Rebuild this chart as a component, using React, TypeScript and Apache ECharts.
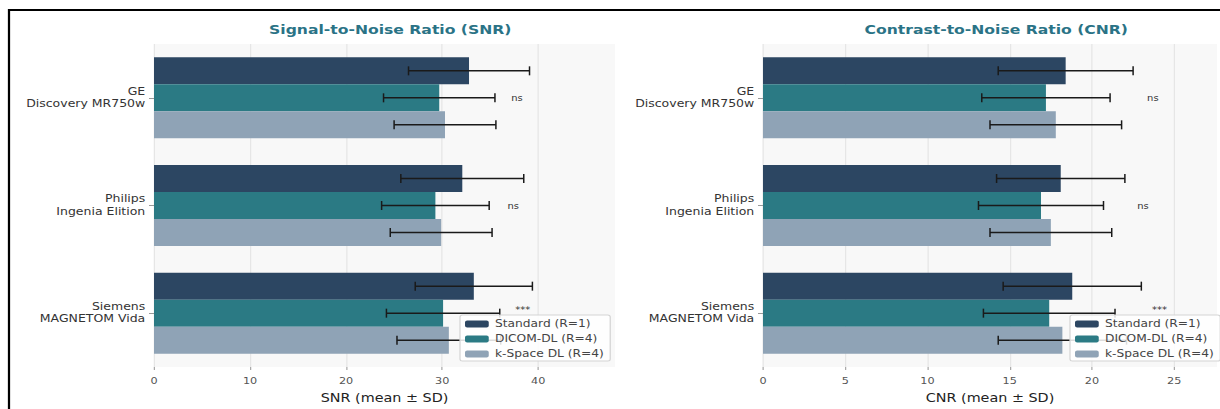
import React, { useEffect, useRef } from "react";
import * as echarts from "echarts";

const categories = ["GE\nDiscovery MR750w", "Philips\nIngenia Elition", "Siemens\nMAGNETOM Vida"];
const seriesNames = ["Standard (R=1)", "DICOM-DL (R=4)", "k-Space DL (R=4)"];
const seriesColors = ["#2c4662", "#2b7a84", "#8fa3b6"];

const snrStandardMean = [32.8, 32.1, 33.3];
const snrStandardSD = [6.3, 6.4, 6.1];
const snrDicomMean = [29.7, 29.3, 30.1];
const snrDicomSD = [5.8, 5.6, 5.9];
const snrKspaceMean = [30.3, 29.9, 30.7];
const snrKspaceSD = [5.3, 5.3, 5.4];

const cnrStandardMean = [18.4, 18.1, 18.8];
const cnrStandardSD = [4.1, 3.9, 4.2];
const cnrDicomMean = [17.2, 16.9, 17.4];
const cnrDicomSD = [3.9, 3.8, 4.0];
const cnrKspaceMean = [17.8, 17.5, 18.2];
const cnrKspaceSD = [4.0, 3.7, 3.9];

const snrSigLabels = ["ns", "ns", "***"];
const snrSigX = [37.8, 37.4, 38.4];
const cnrSigLabels = ["ns", "ns", "***"];
const cnrSigX = [23.7, 23.1, 24.1];

const snrTicks = [0, 10, 20, 30, 40];
const cnrTicks = [0, 5, 10, 15, 20, 25];

const FONT = "DejaVu Sans";
const BAR_W = 27;
// The reference figure is stretched horizontally; draw at a narrower width and stretch.
const STRETCH = 1.25;
const W = 1220 / STRETCH;
const H = 409;
const sx = (x: number) => x / STRETCH;

export default function App() {
  const ref = useRef<HTMLDivElement>(null);
  useEffect(() => {
    if (!ref.current) return;
    const chart = echarts.init(ref.current, undefined, { renderer: "svg" });

    const panels = [
      { means: [snrStandardMean, snrDicomMean, snrKspaceMean], sds: [snrStandardSD, snrDicomSD, snrKspaceSD], sig: snrSigLabels, sigX: snrSigX },
      { means: [cnrStandardMean, cnrDicomMean, cnrKspaceMean], sds: [cnrStandardSD, cnrDicomSD, cnrKspaceSD], sig: cnrSigLabels, sigX: cnrSigX },
    ];

    const series: any[] = [];
    panels.forEach((p, gi) => {
      p.means.forEach((m, si) => {
        series.push({
          type: "bar",
          name: seriesNames[si],
          xAxisIndex: gi,
          yAxisIndex: gi,
          data: m,
          barWidth: BAR_W,
          barGap: "0%",
          itemStyle: { color: seriesColors[si] },
          z: 2,
        });
      });
      p.means.forEach((m, si) => {
        const off = (si - 1) * BAR_W;
        series.push({
          type: "custom",
          xAxisIndex: gi,
          yAxisIndex: gi,
          data: m.map((v, i) => [v - p.sds[si][i], v + p.sds[si][i], i]),
          encode: { x: [0, 1], y: 2 },
          z: 5,
          renderItem: (params: any, api: any) => {
            const a = api.coord([api.value(0), api.value(2)]);
            const b = api.coord([api.value(1), api.value(2)]);
            const y = a[1] + off;
            const st = { stroke: "#1a1a1a", lineWidth: 1.5 };
            const cst = { stroke: "#1a1a1a", lineWidth: 1.2 };
            return {
              type: "group",
              children: [
                { type: "line", shape: { x1: a[0], y1: y, x2: b[0], y2: y }, style: st },
                { type: "line", shape: { x1: a[0], y1: y - 4.5, x2: a[0], y2: y + 4.5 }, style: cst },
                { type: "line", shape: { x1: b[0], y1: y - 4.5, x2: b[0], y2: y + 4.5 }, style: cst },
              ],
            };
          },
        });
      });
      series.push({
        type: "custom",
        xAxisIndex: gi,
        yAxisIndex: gi,
        data: p.sigX.map((x, i) => [x, i]),
        encode: { x: 0, y: 1 },
        z: 5,
        renderItem: (params: any, api: any) => {
          const c = api.coord([api.value(0), api.value(1)]);
          const txt = p.sig[params.dataIndex];
          return {
            type: "text",
            x: c[0],
            y: c[1] + (txt === "ns" ? 1 : -3),
            style: {
              text: txt,
              fontFamily: FONT,
              fontSize: 8,
              fill: "#333",
              align: "center",
              verticalAlign: "middle",
            },
          };
        },
      });
    });

    const grids = [
      { left: sx(154), right: W - sx(615), top: 44, height: 326 },
      { left: sx(763), right: W - sx(1217), top: 44, height: 326 },
    ];

    const mkX = (gi: number, max: number, interval: number, ticks: number[], name: string) => ({
      type: "value",
      gridIndex: gi,
      min: 0,
      max,
      interval,
      name,
      nameLocation: "middle",
      nameGap: 25,
      nameTextStyle: { fontFamily: FONT, fontSize: 11.5, color: "#222" },
      axisLine: { show: false },
      axisTick: { show: true, length: 3, lineStyle: { color: "#aaa" }, customValues: ticks },
      axisLabel: { fontFamily: FONT, fontSize: 9, color: "#555", margin: 9, customValues: ticks },
      splitLine: { show: true, lineStyle: { color: "#e6e6e6", width: 1 } },
    });

    const mkY = (gi: number) => ({
      type: "category",
      gridIndex: gi,
      data: categories,
      inverse: true,
      axisLine: { show: false },
      axisTick: { show: true, length: 4, alignWithLabel: true, lineStyle: { color: "#999" } },
      axisLabel: { fontFamily: FONT, fontSize: 10, color: "#333", lineHeight: 12.5, margin: 7 },
      splitLine: { show: false },
    });

    const mkLegend = (left: number) => ({
      orient: "vertical",
      left,
      top: 315,
      itemWidth: 19,
      itemHeight: 7,
      itemGap: 5,
      padding: [4, 5, 2, 4],
      backgroundColor: "rgba(255,255,255,0.85)",
      borderColor: "#d4d4d4",
      borderWidth: 1,
      borderRadius: 2,
      data: seriesNames,
      textStyle: { fontFamily: FONT, fontSize: 9.8, color: "#444" },
      itemStyle: { borderWidth: 0 },
      z: 10,
    });

    chart.setOption({
      animation: false,
      backgroundColor: "#ffffff",
      title: [
        {
          text: "Signal-to-Noise Ratio (SNR)",
          left: sx(384),
          top: 18,
          textAlign: "center",
          textStyle: { fontFamily: FONT, fontSize: 12.5, fontWeight: "bold", color: "#2a7386" },
        },
        {
          text: "Contrast-to-Noise Ratio (CNR)",
          left: sx(990),
          top: 18,
          textAlign: "center",
          textStyle: { fontFamily: FONT, fontSize: 12.5, fontWeight: "bold", color: "#2a7386" },
        },
      ],
      grid: grids.map((g) => ({ ...g, show: true, backgroundColor: "#f8f8f8", borderWidth: 0 })),
      xAxis: [mkX(0, 48, 10, snrTicks, "SNR (mean ± SD)"), mkX(1, 27.6, 5, cnrTicks, "CNR (mean ± SD)")],
      yAxis: [mkY(0), mkY(1)],
      legend: [mkLegend(sx(460)), mkLegend(sx(1070))],
      graphic: [
        {
          type: "rect",
          shape: { x: sx(9), y: 10, width: 1400, height: 600 },
          style: { fill: "none", stroke: "#000", lineWidth: 1.8 },
          z: 100,
          silent: true,
        },
      ],
      series,
    });

    return () => chart.dispose();
  }, []);

  return (
    <div
      ref={ref}
      style={{
        position: "fixed",
        left: 0,
        top: 0,
        width: W,
        height: H,
        transform: `scaleX(${STRETCH})`,
        transformOrigin: "0 0",
      }}
    />
  );
}
